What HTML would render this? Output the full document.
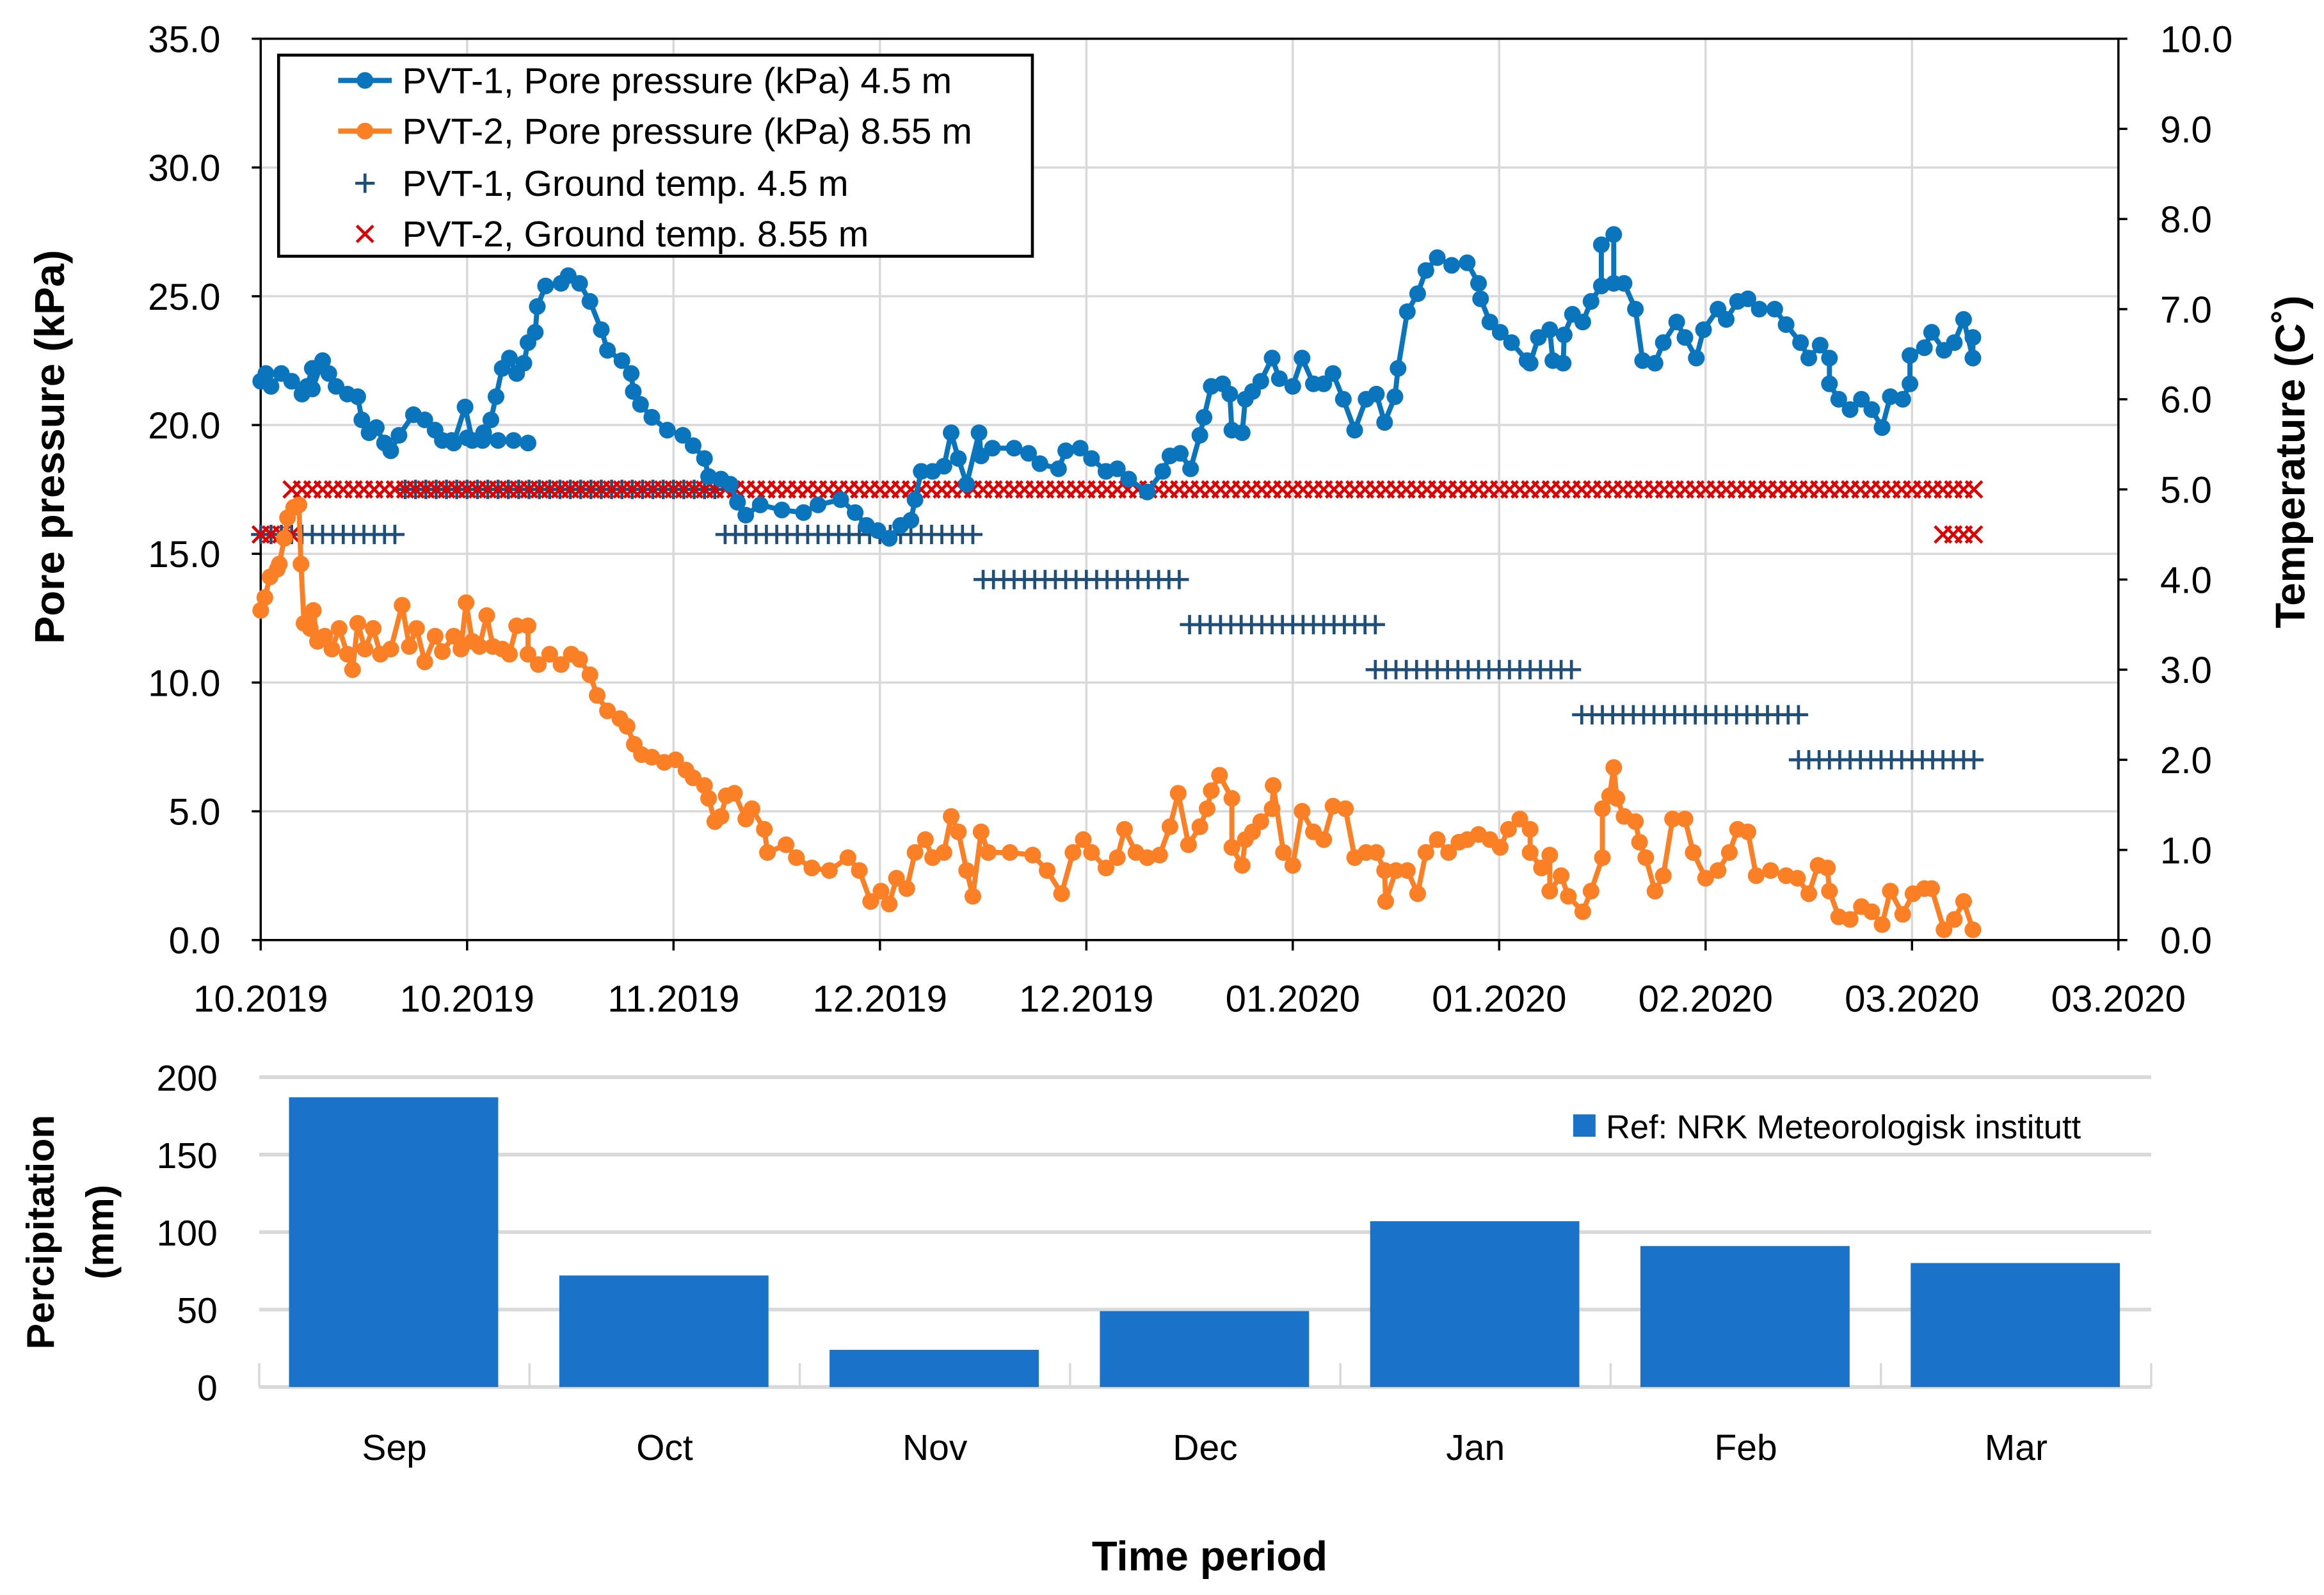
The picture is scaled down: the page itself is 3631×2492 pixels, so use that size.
<!DOCTYPE html>
<html><head><meta charset="utf-8"><style>
html,body{margin:0;padding:0;background:#fff;}
svg{display:block;}
text{font-family:"Liberation Sans",sans-serif;fill:#000;}
</style></head><body>
<svg id="chart" width="3631" height="2492" viewBox="0 0 1560 1070.6" preserveAspectRatio="none" xmlns="http://www.w3.org/2000/svg">
<rect x="0" y="0" width="1560" height="1071" fill="#fff"/>
<g id="topChart"></g>
<g id="bottomChart"></g>
</svg>
<script>
// ---- Top chart data ----
const xTickLabels = ["10.2019","10.2019","11.2019","12.2019","12.2019","01.2020","01.2020","02.2020","03.2020","03.2020"];
const yLeftTicks = ["0.0","5.0","10.0","15.0","20.0","25.0","30.0","35.0"];
const yRightTicks = ["0.0","1.0","2.0","3.0","4.0","5.0","6.0","7.0","8.0","9.0","10.0"];
const pvt1Days = [0,0.5,1,2,3,4,4.5,5,5.0,6,6.6,7.3,8.4,9.4,9.8,10.5,11.2,12,12.6,13.4,14.8,15.9,16.9,17.6,18.7,19.8,20.5,21.6,22.3,22.8,23.4,24.1,24.8,25.5,25.9,26.6,26.8,27.6,29.1,29.8,30.9,31.9,33,33.6,35,35.9,36.1,36.8,37.9,39.4,40.9,41.9,43,43.4,44.6,45.5,46.2,47,48.4,50.5,52.6,54,56.2,57.6,58.7,59.8,60.9,62,63,63.4,64,65.1,66.2,66.9,67.6,68.4,69.6,69.8,70.9,73,74.4,75.5,77.3,78,79.4,80.5,81.9,83,84.1,85.9,87.4,88.1,89.1,90.1,91,91.4,92.1,93.2,93.9,94.1,95.1,95.4,96.1,96.9,98,98.7,100,100.9,102,103,103.9,104.9,106,107.1,108.1,108.9,109.9,110.2,111.1,112.1,112.9,114,115.4,116.9,118,118.2,119.1,120.1,121.2,122.7,123,123.8,124.9,125.2,126.2,126.3,127.1,128.1,128.9,129.9,129.9,131.1,131.1,132.1,133.2,133.9,135.1,135.9,137.2,138,139.1,139.8,141.2,142,143.1,144.1,145.2,146.7,147.8,149.2,150,151.1,152,152,152.9,154,155.1,156.1,157.1,157.9,159.1,159.8,159.8,161.2,161.9,163.1,164.1,165,165.9,165.9];
const pvt1Kpa = [21.7,22.0,21.5,22.0,21.7,21.2,21.5,22.2,21.4,22.5,22.0,21.5,21.2,21.1,20.2,19.7,19.9,19.3,19.0,19.6,20.4,20.2,19.8,19.4,19.3,20.7,19.4,19.7,20.2,21.1,22.2,22.6,22.0,22.4,23.2,23.6,24.6,25.4,25.5,25.8,25.5,24.8,23.7,22.9,22.5,22.0,21.3,20.8,20.3,19.8,19.6,19.2,18.7,18.0,17.9,17.7,17.0,16.5,16.9,16.7,16.6,16.9,17.1,16.6,16.1,15.9,15.6,16.1,16.3,17.1,18.2,18.2,18.4,19.7,18.7,17.7,19.7,18.8,19.1,19.1,18.9,18.5,18.3,19.0,19.1,18.7,18.2,18.3,17.9,17.4,18.2,18.8,18.9,18.3,19.6,20.3,21.5,21.6,21.2,19.8,19.7,21.0,21.3,21.7,22.6,21.8,21.5,22.6,21.6,21.6,22.0,21.0,19.8,21.0,21.2,20.1,21.1,22.2,24.4,25.1,26.0,26.5,26.2,26.3,25.5,24.9,24.0,23.6,23.2,22.5,22.4,23.4,23.7,22.5,22.4,23.5,24.3,24.0,24.8,25.4,27.0,27.4,25.5,25.5,24.5,22.5,22.4,23.2,24.0,23.4,22.6,23.7,24.5,24.1,24.8,24.9,24.5,24.5,23.9,23.2,22.6,23.1,22.6,21.6,21.0,20.6,21.0,20.6,19.9,21.1,21.0,21.6,22.7,23.0,23.6,22.9,23.2,24.1,22.6,23.4];
const pvt1bDays = [18.5,20,21.5,23,24.5,25.9];
const pvt1bKpa = [19.4,19.5,19.4,19.4,19.4,19.3];
const pvt2Days = [0,0.4,0.9,1.6,1.8,2.3,2.6,3.2,3.7,3.9,4.2,4.8,5.1,5.5,6.2,6.9,7.6,8.4,8.9,9.4,10.1,10.9,11.6,12.6,13.7,14.4,15.1,15.9,16.9,17.6,18.7,19.4,19.9,20.5,21.2,21.9,22.5,23.4,24.1,24.8,25.9,25.9,26.9,28,29.1,30.1,30.9,31.9,32.6,33.6,34.8,35.5,36.2,36.9,37.9,39.1,40.2,41.2,41.9,43,43.4,44,44.6,45.1,45.9,47,47.6,48.8,49.1,50.9,51.9,53.4,55.1,56.9,58,59.1,60.1,60.9,61.6,62.6,63.4,64.4,65.1,66.2,66.9,67.6,68.4,69,69.8,70.5,72.6,74.8,76.2,77.6,78.7,79.7,80.5,81.9,83,83.7,84.8,85.9,87.1,88.1,88.9,89.9,91,91.7,92.1,92.9,94.1,94.1,95.1,95.4,96.1,96.9,98,98.1,99.1,100,100.9,102,103,103.9,105.1,106,107.1,108.1,108.9,109,110,111.1,112.1,112.9,114,115.1,116.1,116.9,118,119.1,120.1,120.9,122,123,123,124.1,124.9,124.9,126,126.7,128.1,128.9,130,130,130.7,131.1,131.4,132.1,133.2,133.6,134.2,135.1,135.9,136.8,138,138.8,140,141.2,142.3,143.1,144.1,144.9,146.3,147.8,148.9,150,150.9,151.8,152,152.9,154,155.1,156.1,157.1,157.9,159.1,160.1,161.2,161.9,163.1,164.1,165,165.9];
const pvt2Kpa = [12.8,13.3,14.1,14.4,14.6,15.6,16.4,16.8,16.9,14.6,12.3,12.1,12.8,11.6,11.8,11.3,12.1,11.1,10.5,12.3,11.3,12.1,11.1,11.3,13.0,11.4,12.1,10.8,11.8,11.2,11.8,11.3,13.1,11.6,11.4,12.6,11.4,11.3,11.1,12.2,12.2,11.1,10.7,11.1,10.7,11.1,10.9,10.3,9.5,8.9,8.6,8.3,7.6,7.2,7.1,6.9,7.0,6.6,6.3,6.0,5.5,4.6,4.8,5.6,5.7,4.7,5.1,4.3,3.4,3.7,3.2,2.8,2.7,3.2,2.7,1.5,1.9,1.4,2.4,2.0,3.4,3.9,3.2,3.4,4.8,4.2,2.7,1.7,4.2,3.4,3.4,3.3,2.7,1.8,3.4,3.9,3.4,2.8,3.2,4.3,3.4,3.2,3.3,4.4,5.7,3.7,4.4,5.1,5.8,6.4,5.5,3.6,2.9,3.9,4.2,4.6,5.1,6.0,3.4,2.9,5.0,4.2,3.9,5.2,5.1,3.2,3.4,3.4,2.7,1.5,2.7,2.7,1.8,3.4,3.9,3.4,3.8,3.9,4.1,3.9,3.6,4.3,4.7,4.3,3.4,2.8,3.3,1.9,2.5,1.7,1.1,1.9,3.2,5.1,5.6,6.7,5.5,4.8,4.6,3.8,3.2,1.9,2.5,4.7,4.7,3.4,2.4,2.7,3.4,4.3,4.2,2.5,2.7,2.5,2.4,1.8,2.9,2.8,1.9,0.9,0.8,1.3,1.1,0.6,1.9,1.0,1.8,2.0,2.0,0.4,0.8,1.5,0.4];
// temperature runs (daily readings): start day, end day, value in C
const temp1Start = [0,14,45,70,90,108,128,149];
const temp1End = [13,44,69,89,108,127,149,166];
const temp1Value = [4.5,5.0,4.5,4.0,3.5,3.0,2.5,2.0];
const temp2Start = [0,3,163];
const temp2End = [3,166,166];
const temp2Value = [4.5,5.0,4.5];
// ---- Bottom chart data ----
const months = ["Sep","Oct","Nov","Dec","Jan","Feb","Mar"];
const precip = [187,72,24,49,107,91,80];
const precipTicks = ["0","50","100","150","200"];

const NS="http://www.w3.org/2000/svg";
function mk(parent,tag,attrs,text){const e=document.createElementNS(NS,tag);for(const k in attrs)e.setAttribute(k,attrs[k]);if(text!==undefined)e.textContent=text;parent.appendChild(e);return e;}

// ---- top chart ----
const topG=document.getElementById('topChart');
const L=175,R=1422,T=26,B=631;
const X=d=>L+(d/180)*(R-L);
const YL=v=>B-(v/35)*(B-T);
const YR=v=>B-(v/10)*(B-T);
for(let i=0;i<=9;i++){const x=X(i*20);
 const g=mk(topG,'line',{x1:x,x2:x,y1:T,y2:B,stroke:'#d9d9d9','stroke-width':1.5});
 
 }
for(let i=0;i<yLeftTicks.length;i++){const y=YL(i*5);
 const g=mk(topG,'line',{x1:L,x2:R,y1:y,y2:y,stroke:'#d9d9d9','stroke-width':1.5});
 
 }
const fr=mk(topG,'rect',{x:L,y:T,width:R-L,height:B-T,fill:'none',stroke:'#000','stroke-width':1.5});


for(let i=0;i<yLeftTicks.length;i++){const y=YL(i*5);
 mk(topG,'line',{x1:L-6,x2:L,y1:y,y2:y,stroke:'#000','stroke-width':1.5});
 const t=mk(topG,'text',{x:148,y:y+9,'text-anchor':'end','font-size':25},yLeftTicks[i]);
 
 }
for(let i=0;i<yRightTicks.length;i++){const y=YR(i);
 mk(topG,'line',{x1:R,x2:R+6,y1:y,y2:y,stroke:'#000','stroke-width':1.5});
 const t=mk(topG,'text',{x:1450,y:y+9,'text-anchor':'start','font-size':25},yRightTicks[i]);
 
 }
for(let i=0;i<xTickLabels.length;i++){const x=X(i*20);
 mk(topG,'line',{x1:x,x2:x,y1:B,y2:B+7,stroke:'#000','stroke-width':1.5});
 const t=mk(topG,'text',{x:x,y:679,'text-anchor':'middle','font-size':25},xTickLabels[i]);
 
 }
function plus(g,x,y,c){mk(g,'path',{d:`M${x-6.5} ${y}H${x+6.5}M${x} ${y-6.5}V${y+6.5}`,stroke:c,'stroke-width':2,fill:'none'});}
function cross(g,x,y,c){mk(g,'path',{d:`M${x-5.5} ${y-5.5}L${x+5.5} ${y+5.5}M${x+5.5} ${y-5.5}L${x-5.5} ${y+5.5}`,stroke:c,'stroke-width':2,fill:'none'});}
const gT1=mk(topG,'g',{});


temp1Value.forEach((v,i)=>{for(let d=temp1Start[i];d<=temp1End[i];d++)plus(gT1,X(d),YR(v),'#1f4e79');});
const gT2=mk(topG,'g',{});


temp2Value.forEach((v,i)=>{for(let d=temp2Start[i];d<=temp2End[i];d++)cross(gT2,X(d),YR(v),'#e00000');});
function series(name,days,vals,c){
 const n=Math.min(days.length,vals.length);
 const g=mk(topG,'g',{});
 
 
 const pts=[];for(let i=0;i<n;i++)pts.push(X(days[i])+','+YL(vals[i]));
 mk(g,'polyline',{points:pts.join(' '),fill:'none',stroke:c,'stroke-width':3.4,'stroke-linejoin':'round'});
 for(let i=0;i<n;i++)mk(g,'circle',{cx:X(days[i]),cy:YL(vals[i]),r:5.6,fill:c});}
series('series-pvt1-pore-pressure',pvt1Days,pvt1Kpa,'#0a74bd');
series('series-pvt1-pore-pressure-branch',pvt1bDays,pvt1bKpa,'#0a74bd');
series('series-pvt2-pore-pressure',pvt2Days,pvt2Kpa,'#fb7f24');
let t=mk(topG,'text',{x:0,y:0,transform:'translate(43,300) rotate(-90)','text-anchor':'middle','font-size':28,'font-weight':'bold'},'Pore pressure (kPa)');


t=mk(topG,'text',{x:0,y:0,transform:'translate(1547,310) rotate(-90)','text-anchor':'middle','font-size':28,'font-weight':'bold'},'Temperature (C˚)');


const lg=mk(topG,'g',{});


mk(lg,'rect',{x:187,y:37,width:506,height:135,fill:'#fff',stroke:'#000','stroke-width':2});
const legTexts=['PVT-1, Pore pressure (kPa) 4.5 m','PVT-2, Pore pressure (kPa) 8.55 m','PVT-1, Ground temp. 4.5 m','PVT-2, Ground temp. 8.55 m'];
const legY=[54,88,123,157];
legTexts.forEach((s,i)=>{
 const e=mk(lg,'g',{});
 
 
 if(i<2){const c=i?'#fb7f24':'#0a74bd';mk(e,'line',{x1:227,x2:263,y1:legY[i],y2:legY[i],stroke:c,'stroke-width':3.5});mk(e,'circle',{cx:245,cy:legY[i],r:5.6,fill:c});}
 else if(i==2)plus(e,245,legY[i],'#1f4e79'); else cross(e,245,legY[i],'#e00000');
 mk(e,'text',{x:270,y:legY[i]+8.5,'font-size':24.5},s);});

// ---- bottom chart ----
const botG=document.getElementById('bottomChart');
const bL=174,bR=1444,bT=723,bB=931;
const BY=v=>bB-(v/200)*(bB-bT);
const bw=(bR-bL)/months.length;
for(let i=0;i<precipTicks.length;i++){const y=BY(i*50);
 const g=mk(botG,'line',{x1:bL,x2:bR,y1:y,y2:y,stroke:'#d9d9d9','stroke-width':2.5});
 
 
 const tl=mk(botG,'text',{x:146,y:y+9,'text-anchor':'end','font-size':24.5},precipTicks[i]);
 
 }
for(let i=0;i<=months.length;i++){const x=bL+i*bw;mk(botG,'line',{x1:x,x2:x,y1:bB-16,y2:bB,stroke:'#d9d9d9','stroke-width':1.5});}
months.forEach((m,i)=>{
 const x0=bL+i*bw+20;
 const r=mk(botG,'rect',{x:x0,y:BY(precip[i]),width:bw-41,height:bB-BY(precip[i]),fill:'#1a73c8'});
 
 
 const tl=mk(botG,'text',{x:bL+i*bw+bw/2,y:980,'text-anchor':'middle','font-size':24.5},m);
 
 });
const bl=mk(botG,'g',{});


mk(bl,'rect',{x:1056,y:748,width:15,height:15,fill:'#1a73c8'});
mk(bl,'text',{x:1078,y:764,'font-size':22.5},'Ref: NRK Meteorologisk institutt');
t=mk(botG,'text',{x:0,y:0,transform:'translate(36,827) rotate(-90)','text-anchor':'middle','font-size':26,'font-weight':'bold'},'Percipitation');


t=mk(botG,'text',{x:0,y:0,transform:'translate(76,827) rotate(-90)','text-anchor':'middle','font-size':26,'font-weight':'bold'},'(mm)');


t=mk(botG,'text',{x:812,y:1054,'text-anchor':'middle','font-size':28,'font-weight':'bold'},'Time period');


</script>
</body></html>
